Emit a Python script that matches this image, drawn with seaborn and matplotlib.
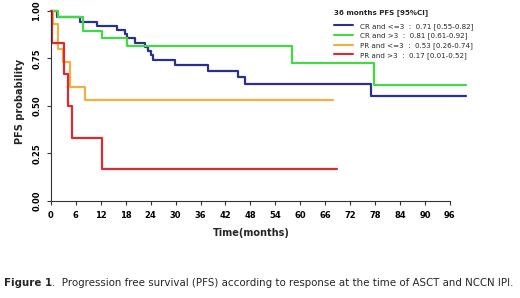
import numpy as np
import pandas as pd
import seaborn as sns
from matplotlib import pyplot as plt
from matplotlib.lines import Line2D

# Kaplan-Meier step curves (months, PFS probability)
groups = ["CR and <=3", "CR and >3", "PR and <=3", "PR and >3"]
ci_text = ["0.71 [0.55-0.82]", "0.81 [0.61-0.92]", "0.53 [0.26-0.74]", "0.17 [0.01-0.52]"]

cr_low_time = [0, 1.5, 7.0, 11.0, 15.8, 17.8, 18.3, 20.3, 22.6, 23.4, 24.0, 24.6,
               29.8, 37.8, 45.0, 46.8, 77.0, 100.0]
cr_low_surv = [1.0, 0.967, 0.944, 0.921, 0.900, 0.877, 0.856, 0.833, 0.810, 0.787,
               0.766, 0.742, 0.715, 0.685, 0.654, 0.615, 0.553, 0.553]

cr_high_time = [0, 1.8, 7.8, 12.2, 18.2, 58.0, 77.8, 100.0]
cr_high_surv = [1.0, 0.966, 0.897, 0.858, 0.817, 0.724, 0.608, 0.608]

pr_low_time = [0, 0.6, 1.8, 3.0, 4.6, 8.2, 68.0]
pr_low_surv = [1.0, 0.933, 0.800, 0.733, 0.600, 0.533, 0.533]

pr_high_time = [0, 0.3, 3.1, 4.2, 5.0, 12.4, 68.9]
pr_high_surv = [1.0, 0.833, 0.667, 0.500, 0.333, 0.167, 0.167]

x_ticks = list(range(0, 97, 6))
y_ticks = [0.0, 0.25, 0.5, 0.75, 1.0]

colors = ["#2b2f8f", "#44d844", "#f2b040", "#dc2a32"]

frames = []
for name, t, s in zip(
    groups,
    [cr_low_time, cr_high_time, pr_low_time, pr_high_time],
    [cr_low_surv, cr_high_surv, pr_low_surv, pr_high_surv],
):
    frames.append(pd.DataFrame({"time": t, "surv": s, "group": name}))
df = pd.concat(frames, ignore_index=True)

sns.set_style("ticks")
plt.rcParams["font.family"] = ["DejaVu Sans"]

fig = plt.figure(figsize=(5.2, 2.98), dpi=100)
ax = fig.add_axes([0.098, 0.3255, 0.807, 0.6376])

for name, col in zip(groups, colors):
    sub = df[df["group"] == name]
    sns.lineplot(
        data=sub, x="time", y="surv", ax=ax, color=col, lw=1.6,
        drawstyle="steps-post", estimator=None, sort=False, legend=False,
        clip_on=False,
    )

ax.set_xlim(0, 101)
ax.set_ylim(0, 1.0)
ax.set_xticks(x_ticks)
ax.set_yticks(y_ticks)
ax.set_yticklabels([f"{v:.2f}" for v in y_ticks], rotation=90, va="center")
ax.tick_params(axis="both", labelsize=6, length=3, width=0.8, colors="#333333", pad=4)
for lab in ax.get_xticklabels() + ax.get_yticklabels():
    lab.set_fontweight("bold")
    lab.set_color("black")
for side in ["top", "right"]:
    ax.spines[side].set_visible(False)
for side in ["left", "bottom"]:
    ax.spines[side].set_color("#333333")
    ax.spines[side].set_linewidth(0.8)
ax.spines["bottom"].set_bounds(0, 96)
ax.spines["left"].set_bounds(0, 1.0)

ax.set_xlabel("")
ax.set_ylabel("")
fig.text(0.484, 0.218, "Time(months)", fontsize=7, fontweight="bold", ha="center", va="center")
fig.text(0.038, 0.66, "PFS probability", fontsize=7, fontweight="bold", rotation=90,
         ha="center", va="center")

handles = [Line2D([0], [0], color=c, lw=1.5) for c in colors]
labels = [f"{g}  :  {c}" for g, c in zip(groups, ci_text)]
leg = ax.legend(
    handles, labels, title="36 months PFS [95%CI]", loc="upper left",
    bbox_to_anchor=(0.636, 0.982), bbox_transform=fig.transFigure,
    frameon=False, fontsize=5.1, title_fontsize=5.1, handlelength=2.6,
    handletextpad=1.1, labelspacing=0.42, borderpad=0, alignment="left",
)
leg.get_title().set_fontweight("bold")
leg._legend_box.sep = 5

cap1 = fig.text(0.008, 0.05, "Figure 1", fontsize=7.4, fontweight="bold", va="center")
fig.canvas.draw()
bb = cap1.get_window_extent(fig.canvas.get_renderer())
x_after = bb.x1 / fig.bbox.width
fig.text(x_after, 0.05, ".  Progression free survival (PFS) according to response at the time of ASCT and NCCN IPI.",
         fontsize=7.4, va="center")

fig.savefig("out.png", dpi=100)
